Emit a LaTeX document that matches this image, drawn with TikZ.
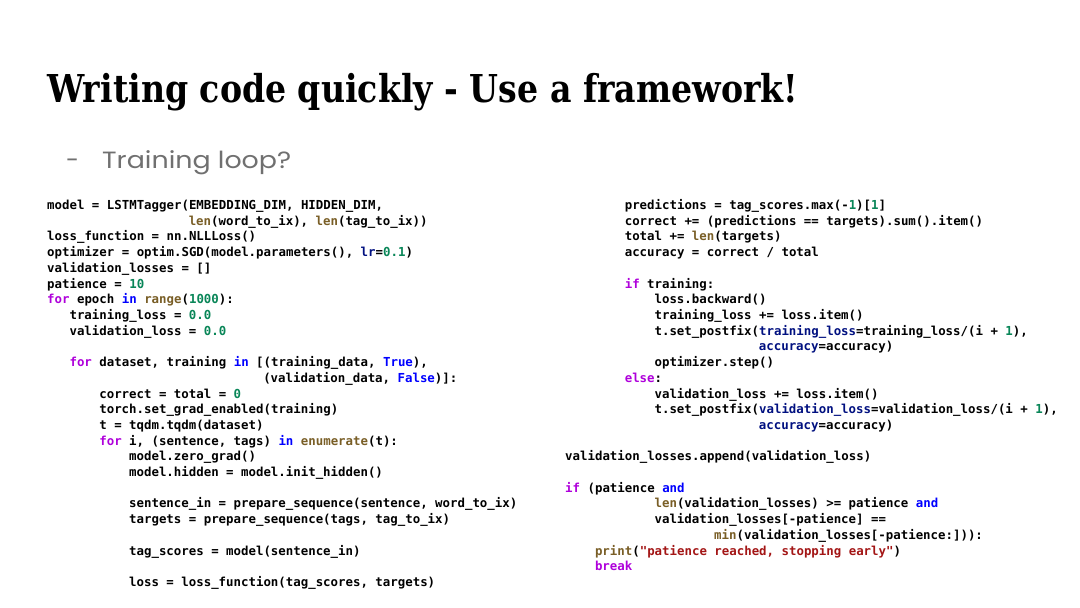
\documentclass[tikz,border=0pt]{standalone}
\usepackage{fontspec}
\usepackage{graphicx}
\usepackage{tikz}
\newfontfamily\titlefont{DejaVu Serif}
\newfontfamily\subfont{Poppins}
\newfontfamily\codefont{DejaVu Sans Mono}

\definecolor{kwpurple}{HTML}{AF00DB}
\definecolor{kwblue}{HTML}{0000FF}
\definecolor{fnbrown}{HTML}{795E26}
\definecolor{numgreen}{HTML}{098658}
\definecolor{argnavy}{HTML}{001080}
\definecolor{strred}{HTML}{A31515}
\definecolor{subgray}{HTML}{707070}

\newcommand{\kw}[1]{\textcolor{kwpurple}{#1}}
\newcommand{\kb}[1]{\textcolor{kwblue}{#1}}
\newcommand{\fn}[1]{\textcolor{fnbrown}{#1}}
\newcommand{\nm}[1]{\textcolor{numgreen}{#1}}
\newcommand{\ka}[1]{\textcolor{argnavy}{#1}}
\newcommand{\st}[1]{\textcolor{strred}{#1}}

\begin{document}
\begin{tikzpicture}[x=1pt,y=-1pt,
  codeline/.style={anchor=base west,inner sep=0pt,
    font=\codefont\bfseries\fontsize{12.4}{15}\selectfont},
  subline/.style={anchor=base west,inner sep=0pt,text=subgray,
    font=\subfont\fontsize{23.5}{26}\selectfont}]
\useasboundingbox[fill=white] (0,0) rectangle (1080,608);

% heading
\node[anchor=base west,inner sep=0pt] (title) at (47,102)
  {\resizebox{751pt}{\height}{\titlefont\bfseries\fontsize{38.4}{40}\selectfont Writing code quickly - Use a framework!}};
\node[subline] (dash) at (66,168) {-};
\node[subline] (sub) at (102,168) {\resizebox{189pt}{\height}{Training loop?}};

% left column: line / indent / text
\foreach \i/\n/\t in {
  1/0/{model = LSTMTagger(EMBEDDING\_DIM, HIDDEN\_DIM,},
  2/19/{\fn{len}(word\_to\_ix), \fn{len}(tag\_to\_ix))},
  3/0/{loss\_function = nn.NLLLoss()},
  4/0/{optimizer = optim.SGD(model.parameters(), \ka{lr}=\nm{0.1})},
  5/0/{validation\_losses = []},
  6/0/{patience = \nm{10}},
  7/0/{\kw{for} epoch \kb{in} \fn{range}(\nm{1000}):},
  8/3/{training\_loss = \nm{0.0}},
  9/3/{validation\_loss = \nm{0.0}},
  11/3/{\kw{for} dataset, training \kb{in} [(training\_data, \kb{True}),},
  12/29/{(validation\_data, \kb{False})]:},
  13/7/{correct = total = \nm{0}},
  14/7/{torch.set\_grad\_enabled(training)},
  15/7/{t = tqdm.tqdm(dataset)},
  16/7/{\kw{for} i, (sentence, tags) \kb{in} \fn{enumerate}(t):},
  17/11/{model.zero\_grad()},
  18/11/{model.hidden = model.init\_hidden()},
  20/11/{sentence\_in = prepare\_sequence(sentence, word\_to\_ix)},
  21/11/{targets = prepare\_sequence(tags, tag\_to\_ix)},
  23/11/{tag\_scores = model(sentence\_in)},
  25/11/{loss = loss\_function(tag\_scores, targets)}}
  \node[codeline] (L\i) at ({47+\n*7.45},{209.5+(\i-1)*15.71}) {\t};

% right column
\foreach \i/\n/\t in {
  1/8/{predictions = tag\_scores.max(-\nm{1})[\nm{1}]},
  2/8/{correct += (predictions == targets).sum().item()},
  3/8/{total += \fn{len}(targets)},
  4/8/{accuracy = correct / total},
  6/8/{\kw{if} training:},
  7/12/{loss.backward()},
  8/12/{training\_loss += loss.item()},
  9/12/{t.set\_postfix(\ka{training\_loss}=training\_loss/(i + \nm{1}),},
  10/26/{\ka{accuracy}=accuracy)},
  11/12/{optimizer.step()},
  12/8/{\kw{else}:},
  13/12/{validation\_loss += loss.item()},
  14/12/{t.set\_postfix(\ka{validation\_loss}=validation\_loss/(i + \nm{1}),},
  15/26/{\ka{accuracy}=accuracy)},
  17/0/{validation\_losses.append(validation\_loss)},
  19/0/{\kw{if} (patience \kb{and}},
  20/12/{\fn{len}(validation\_losses) >= patience \kb{and}},
  21/12/{validation\_losses[-patience] ==},
  22/20/{\fn{min}(validation\_losses[-patience:])):},
  23/4/{\fn{print}(\st{"patience reached, stopping early"})},
  24/4/{\kw{break}}}
  \node[codeline] (R\i) at ({565+\n*7.45},{209.5+(\i-1)*15.71}) {\t};

\end{tikzpicture}
\end{document}
